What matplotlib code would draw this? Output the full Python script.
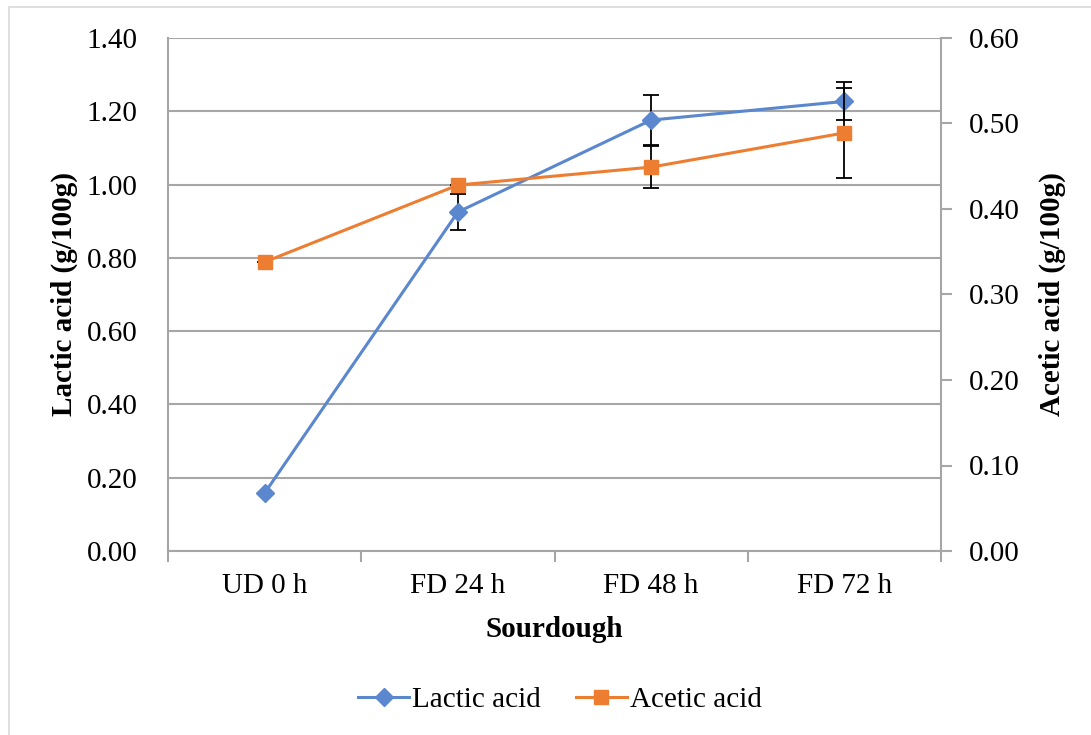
import matplotlib
matplotlib.use('Agg')
import matplotlib.pyplot as plt
from matplotlib.patches import Rectangle

plt.rcParams['font.family'] = ['Liberation Serif', 'DejaVu Serif']

categories = ['UD 0 h', 'FD 24 h', 'FD 48 h', 'FD 72 h']
lactic = [0.158, 0.925, 1.176, 1.227]
lactic_err = [0.0, 0.049, 0.068, 0.052]
acetic = [0.338, 0.428, 0.449, 0.489]
acetic_err = [0.0, 0.0, 0.025, 0.053]

blue = '#5B87CF'
orange = '#ED7D31'
grid_c = '#A6A6A6'

fig = plt.figure(figsize=(10.91, 7.35), dpi=100)
ax = fig.add_axes([168 / 1091, 184 / 735, 773 / 1091, 513 / 735])
ax2 = ax.twinx()

x = range(len(categories))

# outer chart border (Excel style)
fig.patches.append(Rectangle((9 / 1091, -0.1), 1.2, (728 / 735) + 0.1, transform=fig.transFigure,
                             fill=False, edgecolor='#D9D9D9', lw=1.2, zorder=0))

ax.errorbar(x, lactic, yerr=lactic_err, fmt='none', ecolor='black', elinewidth=1.3, capsize=6,
            capthick=1.3, zorder=3)
l1, = ax.plot(x, lactic, color=blue, marker='D', ms=9, lw=2.2, zorder=4, label='Lactic acid')

ax2.errorbar(x, acetic, yerr=acetic_err, fmt='none', ecolor='black', elinewidth=1.3, capsize=6,
             capthick=1.3, zorder=3)
l2, = ax2.plot(x, acetic, color=orange, marker='s', ms=10, lw=2.2, zorder=4, label='Acetic acid')

ax.set_xlim(-0.5, 3.5)
ax.set_ylim(0, 1.4)
ax2.set_ylim(0, 0.6)
ax.set_yticks([i * 0.2 for i in range(8)])
ax2.set_yticks([i * 0.1 for i in range(7)])
ax.set_yticklabels(['%.2f' % (i * 0.2) for i in range(8)])
ax2.set_yticklabels(['%.2f' % (i * 0.1) for i in range(7)])
ax.set_xticks(list(x))
ax.set_xticklabels(categories)
ax.set_xticks([-0.5, 0.5, 1.5, 2.5, 3.5], minor=True)

ax.yaxis.grid(True, color=grid_c, lw=1.5)
ax.set_axisbelow(True)

for a in (ax, ax2):
    for s in a.spines.values():
        s.set_color(grid_c)
        s.set_linewidth(1.5)
    a.spines['top'].set_visible(False)
ax2.spines['left'].set_visible(False)
ax2.spines['bottom'].set_visible(False)
ax.spines['right'].set_visible(False)

ax.tick_params(axis='y', length=0, labelsize=21, pad=22)
ax.tick_params(axis='x', which='major', length=0, labelsize=21, pad=16)
ax.tick_params(axis='x', which='minor', length=8, color=grid_c, width=1.5)
ax2.tick_params(axis='y', length=8, color=grid_c, width=1.5, labelsize=21, pad=12)

ax.set_xlabel('Sourdough', fontsize=21, fontweight='bold', labelpad=12)
ax.set_ylabel('Lactic acid (g/100g)', fontsize=21, fontweight='bold', labelpad=6)
ax2.set_ylabel('Acetic acid (g/100g)', fontsize=21, fontweight='bold', labelpad=14)

fig.legend([l1, l2], ['Lactic acid', 'Acetic acid'], loc='center', bbox_to_anchor=(560 / 1091, 1 - 700 / 735),
           ncol=2, frameon=False, fontsize=21, handlelength=1.75, handletextpad=0.1, columnspacing=1.2)

fig.savefig('out.png', dpi=100)
